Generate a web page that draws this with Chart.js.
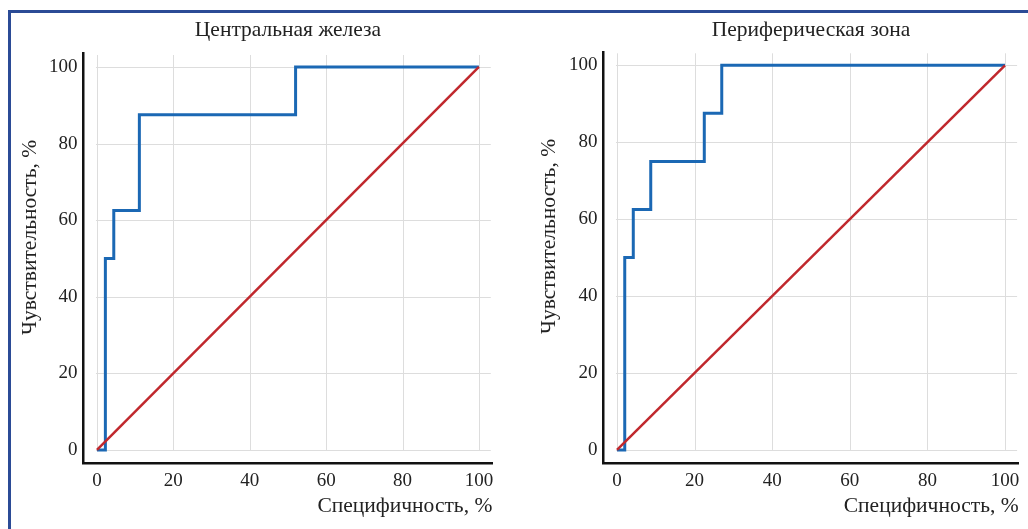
<!DOCTYPE html>
<html>
<head>
<meta charset="utf-8">
<script src="https://cdn.jsdelivr.net/npm/chart.js@4.4.1/dist/chart.umd.min.js"></script>
<style>
  html, body { margin: 0; padding: 0; background: #fff; overflow: hidden; }
  #page { position: relative; width: 1028px; height: 529px; overflow: hidden; }
  #frame { position: absolute; left: 8px; top: 10px; width: 1100px; height: 600px;
           border-left: 3px solid #2b4b96; border-top: 3px solid #2b4b96; }
  canvas { position: absolute; top: 0; }
  #central { left: 10px; }
  #periph { left: 525px; }
</style>
</head>
<body>
<div id="page">
  <div id="frame"></div>
  <canvas id="central" width="510" height="529"></canvas>
  <canvas id="periph" width="503" height="529"></canvas>
</div>
<script>
const axisTicks = [0, 20, 40, 60, 80, 100];
const diagX = [0, 100];
const diagY = [0, 100];
// Центральная железа
const centralSpec = [0, 2.2, 4.4, 11.1, 52, 100];
const centralSens = [0, 50, 62.5, 87.5, 100, 100];
// Периферическая зона
const periphSpec = [0, 2, 4.2, 8.7, 22.5, 27, 100];
const periphSens = [0, 50, 62.5, 75, 87.5, 100, 100];

const FONT = "'Liberation Serif', 'Times New Roman', serif";
const TEXT = "#222";
const TITLE_SIZE = 21.5;
const pts = (xs, ys) => xs.map((x, i) => ({ x: x, y: ys[i] }));

// grid only inside the 0..100 box, the axis lines sit a bit outside
const innerGrid = {
    id: "innerGrid",
    beforeDatasetsDraw(chart) {
        const { ctx, chartArea, scales: { x, y } } = chart;
        ctx.save();
        ctx.strokeStyle = "#dddddd";
        ctx.lineWidth = 1;
        ctx.beginPath();
        axisTicks.forEach(v => {
            const px = Math.round(x.getPixelForValue(v)) + 0.5;
            ctx.moveTo(px, y.getPixelForValue(0));
            ctx.lineTo(px, chartArea.top + 1.5);
            const py = Math.round(y.getPixelForValue(v)) + 0.5;
            ctx.moveTo(x.getPixelForValue(0) - 1, py);
            ctx.lineTo(chartArea.right - 1.5, py);
        });
        ctx.stroke();
        ctx.restore();
    }
};

// y title sits a bit above the middle of the axis in the original
const sideTitle = {
    id: "sideTitle",
    afterDraw(chart, args, o) {
        const { ctx, scales: { y } } = chart;
        ctx.save();
        ctx.translate(y.left + o.x, y.getPixelForValue(o.mid));
        ctx.rotate(-Math.PI / 2);
        ctx.font = TITLE_SIZE + "px " + FONT;
        ctx.fillStyle = TEXT;
        ctx.textAlign = "center";
        ctx.textBaseline = "middle";
        ctx.fillText(o.text, 0, 0);
        ctx.restore();
    }
};

function makeChart(id, title, spec, sens, g) {
    const tickFont = { family: FONT, size: 19, lineHeight: 1.2 };
    const titleFont = { family: FONT, size: TITLE_SIZE, lineHeight: 1.2 };
    return new Chart(document.getElementById(id), {
        type: "line",
        data: {
            datasets: [{
                data: pts(diagX, diagY),
                xAxisID: "x",
                yAxisID: "y",
                borderColor: "#c0282d",
                borderWidth: 2.5,
                pointRadius: 0,
                order: 0
            }, {
                data: pts(spec, sens),
                xAxisID: "x",
                yAxisID: "y",
                borderColor: "#1b68b4",
                borderWidth: 3,
                stepped: "before",
                borderJoinStyle: "miter",
                pointRadius: 0,
                order: 1
            }]
        },
        options: {
            responsive: false,
            animation: false,
            events: [],
            layout: { padding: { top: 0, right: g.padRight, bottom: 8, left: 0 } },
            plugins: {
                legend: { display: false },
                tooltip: { enabled: false },
                sideTitle: { text: "Чувствительность, %", x: g.yTitleX, mid: 55.5 }
            },
            scales: {
                x: {
                    type: "linear",
                    min: -3.5,
                    max: 103.5,
                    bounds: "data",
                    afterBuildTicks: s => { s.ticks = axisTicks.map(v => ({ value: v })); },
                    afterFit: s => { s.height = 57.6; },
                    grid: { display: false, drawTicks: false },
                    border: { display: true, color: "#111", width: 2.5 },
                    ticks: { padding: 6, color: TEXT, font: tickFont, autoSkip: false, maxRotation: 0 },
                    title: {
                        display: true,
                        text: "Специфичность, %",
                        align: "end",
                        color: TEXT,
                        font: titleFont,
                        padding: { top: 2, bottom: 2 }
                    }
                },
                y: {
                    type: "linear",
                    min: -3.5,
                    max: 103.5,
                    bounds: "data",
                    afterBuildTicks: s => { s.ticks = axisTicks.map(v => ({ value: v })); },
                    afterFit: s => { s.width = g.yWidth; },
                    grid: { display: false, drawTicks: false },
                    border: { display: true, color: "#111", width: 2.5 },
                    ticks: { padding: 6, color: TEXT, font: tickFont, autoSkip: false },
                    title: { display: false }
                },
                // top axis only carries the panel title, centred over the plot
                xTop: {
                    type: "linear",
                    axis: "x",
                    position: "top",
                    min: 0,
                    max: 1,
                    afterFit: s => { s.height = g.topHeight; },
                    grid: { display: false, drawTicks: false },
                    border: { display: false },
                    ticks: { display: false },
                    title: {
                        display: true,
                        text: title,
                        color: TEXT,
                        font: titleFont,
                        padding: { top: 17.1, bottom: 0 }
                    }
                }
            }
        },
        plugins: [innerGrid, sideTitle]
    });
}

makeChart("central", "Центральная железа", centralSpec, centralSens,
    { yWidth: 73.6, yTitleX: 20, padRight: 27.7, topHeight: 53.5 });
makeChart("periph", "Периферическая зона", periphSpec, periphSens,
    { yWidth: 78.4, yTitleX: 24, padRight: 9.4, topHeight: 51.8 });
</script>
</body>
</html>
